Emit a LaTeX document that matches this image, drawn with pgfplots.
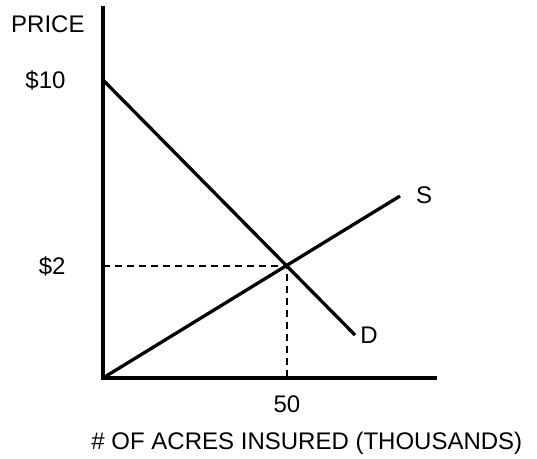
\documentclass[border=0pt]{standalone}
\usepackage{pgfplots}
\pgfplotsset{compat=1.18}
\usepackage{fontspec}
\setmainfont{Liberation Sans}
\begin{document}
\begin{tikzpicture}
\useasboundingbox (-103pt,-80pt) rectangle (434pt,378pt);
\begin{axis}[
  at={(0,0)}, anchor=south west,
  scale only axis, width=332pt, height=370pt,
  xmin=0, xmax=332, ymin=0, ymax=370,
  axis x line=bottom, axis y line=left,
  axis line style={-, line width=3.5pt, line cap=rect},
  clip=false,
  major tick length=0pt,
  xtick={184}, xticklabels={50},
  ytick={112,298}, yticklabels={\$2,\$10},
  font=\fontsize{24}{28}\selectfont,
  xticklabel style={anchor=north, yshift=-14pt},
  yticklabel style={anchor=east, xshift=-34pt},
  /pgf/number format/assume math mode=true,
]
\addplot[black, line width=3.3pt] coordinates {(0,298) (252,43)};
\addplot[black, line width=3.3pt] coordinates {(0,0) (297,182)};
\addplot[black, line width=1.3pt, dash pattern=on 7pt off 5pt] coordinates {(0,112) (184,112) (184,0)};
\node at (axis cs:321,183) {S};
\node at (axis cs:266,43) {D};
\node at (axis description cs:-0.166,0.957) {PRICE};
\node at (axis description cs:0.614,-0.176) {\# OF ACRES INSURED (THOUSANDS)};
\end{axis}
\end{tikzpicture}
\end{document}
